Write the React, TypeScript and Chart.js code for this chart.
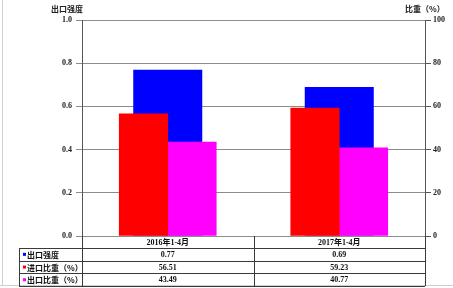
import React, { useEffect, useRef } from 'react';
import { Chart, registerables } from 'chart.js';

Chart.register(...registerables);

const categories = ['2016年1-4月', '2017年1-4月'];
const seriesNames = ['出口强度', '进口比重（%）', '出口比重（%）'];
const exportIntensity = [0.77, 0.69];
const importShare = [56.51, 59.23];
const exportShare = [43.49, 40.77];
const leftAxisTitle = '出口强度';
const rightAxisTitle = '比重（%）';

const BLUE = '#0000FF';
const RED = '#FF0000';
const MAGENTA = '#FF00FF';
const seriesColors = [BLUE, RED, MAGENTA];

const LATIN = '"Liberation Serif", "Noto Sans CJK SC", serif';
const CJK = '"Noto Sans CJK SC", "Liberation Serif", sans-serif';

const tablePlugin = {
  id: 'dataTable',
  afterDraw(chart: any) {
    const ctx: CanvasRenderingContext2D = chart.ctx;
    const { left, right, bottom } = chart.chartArea;
    const xs = chart.scales.x;
    const W = chart.width;
    const H = chart.height;
    ctx.save();

    // outer faint frame
    ctx.strokeStyle = '#cfcfcf';
    ctx.lineWidth = 1;
    ctx.beginPath();
    ctx.moveTo(2.5, 0);
    ctx.lineTo(2.5, 285.5);
    ctx.moveTo(0, 285.5);
    ctx.lineTo(W, 285.5);
    ctx.stroke();

    // axis titles
    ctx.fillStyle = '#222';
    ctx.textBaseline = 'middle';
    ctx.textAlign = 'left';
    ctx.font = `bold 8px ${CJK}`;
    ctx.fillText(leftAxisTitle, 51, 8.5);
    ctx.fillText(rightAxisTitle, 405, 8.5);

    // table
    const headerH = 12;
    const rowH = 12.7;
    const tableLeft = 19;
    const rowsTop = bottom + headerH;
    const tableBottom = rowsTop + rowH * seriesNames.length;
    const centers = categories.map((_, i) => xs.getPixelForValue(i));
    const dividers: number[] = [];
    for (let i = 0; i < centers.length - 1; i++) dividers.push((centers[i] + centers[i + 1]) / 2);

    ctx.strokeStyle = '#3a3a3a';
    ctx.beginPath();
    for (let r = 0; r <= seriesNames.length; r++) {
      const y = Math.round(rowsTop + rowH * r) + 0.5;
      ctx.moveTo(tableLeft, y);
      ctx.lineTo(right, y);
    }
    [left, ...dividers, right].forEach((x) => {
      const xx = Math.round(x) + 0.5;
      ctx.moveTo(xx, bottom);
      ctx.lineTo(xx, tableBottom);
    });
    ctx.moveTo(tableLeft + 0.5, rowsTop);
    ctx.lineTo(tableLeft + 0.5, tableBottom);
    ctx.stroke();

    // header labels
    ctx.fillStyle = '#111';
    ctx.textAlign = 'center';
    ctx.font = `bold 8px ${LATIN}`;
    categories.forEach((c, i) => {
      ctx.fillText(c, centers[i], bottom + headerH / 2 + 0.5);
    });

    // rows
    const rows = [
      exportIntensity.map((v) => v.toFixed(2)),
      importShare.map((v) => v.toFixed(2)),
      exportShare.map((v) => v.toFixed(2)),
    ];
    seriesNames.forEach((name, r) => {
      const cy = rowsTop + rowH * r + rowH / 2 + 0.5;
      ctx.fillStyle = seriesColors[r];
      ctx.fillRect(23, cy - 2, 3, 3);
      ctx.fillStyle = '#111';
      ctx.textAlign = 'left';
      ctx.font = `bold 8px ${CJK}`;
      ctx.fillText(name, 27, cy);
      ctx.textAlign = 'center';
      ctx.font = `bold 8px ${LATIN}`;
      rows[r].forEach((t, i) => ctx.fillText(t, centers[i], cy));
    });

    ctx.restore();
  },
};

export default function App() {
  const ref = useRef<HTMLCanvasElement | null>(null);
  useEffect(() => {
    document.body.style.margin = '0';
    if (!ref.current) return;
    const chart = new Chart(ref.current, {
      type: 'bar',
      data: {
        labels: categories,
        datasets: [
          {
            label: seriesNames[0],
            data: exportIntensity,
            backgroundColor: BLUE,
            yAxisID: 'y',
            grouped: false,
            maxBarThickness: 69,
            order: 3,
          } as any,
          {
            label: seriesNames[1],
            data: importShare,
            backgroundColor: RED,
            yAxisID: 'y1',
            barThickness: 48.5,
            order: 1,
          },
          {
            label: seriesNames[2],
            data: exportShare,
            backgroundColor: MAGENTA,
            yAxisID: 'y1',
            barThickness: 48.5,
            order: 2,
          },
        ],
      },
      options: {
        responsive: false,
        animation: false,
        devicePixelRatio: 1,
        layout: { padding: { top: 20, bottom: 52, left: 0, right: 0 } },
        plugins: { legend: { display: false }, tooltip: { enabled: false } },
        scales: {
          x: { display: false },
          y: {
            position: 'left',
            min: 0,
            max: 1,
            ticks: {
              stepSize: 0.2,
              padding: 4,
              color: '#222',
              font: { family: LATIN, size: 8, weight: 'bold' },
              callback: (v: any) => Number(v).toFixed(1),
            },
            grid: { color: '#8c8c8c', tickLength: 6 },
            border: { color: '#555' },
            afterFit: (s: any) => {
              s.width = 82;
            },
          },
          y1: {
            position: 'right',
            min: 0,
            max: 100,
            ticks: {
              stepSize: 20,
              padding: 2,
              color: '#222',
              font: { family: LATIN, size: 8, weight: 'bold' },
            },
            grid: { drawOnChartArea: false, color: '#555', tickLength: 6 },
            border: { color: '#555' },
            afterFit: (s: any) => {
              s.width = 28;
            },
          },
        },
      } as any,
      plugins: [tablePlugin],
    });
    return () => chart.destroy();
  }, []);
  return (
    <div style={{ position: 'absolute', left: 0, top: 0, width: 453, height: 288, background: '#fff' }}>
      <canvas ref={ref} width={453} height={288} />
    </div>
  );
}
